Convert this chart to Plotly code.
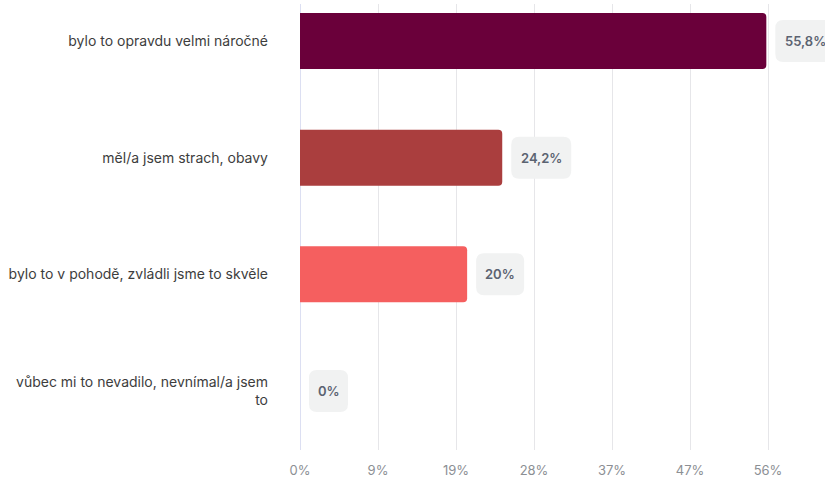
import plotly.graph_objects as go

# Survey answers, top to bottom
categories = [
    "bylo to opravdu velmi náročné",
    "měl/a jsem strach, obavy",
    "bylo to v pohodě, zvládli jsme to skvěle",
    "vůbec mi to nevadilo, nevnímal/a jsem<br>to",
]
values = [55.8, 24.2, 20.0, 0.0]
value_labels = ["55,8%", "24,2%", "20%", "0%"]
bar_colors = ["#6a003a", "#aa3e3e", "#f55f5f", "#f55f5f"]

tick_values = [0, 9.333, 18.667, 28, 37.333, 46.667, 56]
tick_labels = ["0%", "9%", "19%", "28%", "37%", "47%", "56%"]

FONT = "Inter"
positions = list(range(len(categories)))

fig = go.Figure(
    go.Bar(
        x=values,
        y=positions,
        orientation="h",
        marker=dict(color=bar_colors, cornerradius=4, line=dict(width=0)),
        width=0.48,
        hoverinfo="skip",
    )
)


def text_width(s):
    # rough pixel width of a semibold 13px label
    w = 0
    for ch in s:
        if ch.isdigit():
            w += 9
        elif ch == "%":
            w += 11
        else:
            w += 3
    return w


box_h = 42
radius = 8
pad = 9.5
gap = 9
for v, p, lab in zip(values, positions, value_labels):
    w = text_width(lab) + 2 * pad
    a, b = gap, gap + w
    hh = box_h / 2
    path = (
        f"M {a + radius},{-hh} L {b - radius},{-hh} Q {b},{-hh} {b},{-hh + radius} "
        f"L {b},{hh - radius} Q {b},{hh} {b - radius},{hh} "
        f"L {a + radius},{hh} Q {a},{hh} {a},{hh - radius} "
        f"L {a},{-hh + radius} Q {a},{-hh} {a + radius},{-hh} Z"
    )
    fig.add_shape(
        type="path",
        xref="x",
        yref="y",
        xsizemode="pixel",
        ysizemode="pixel",
        xanchor=v,
        yanchor=p,
        path=path,
        fillcolor="#f1f2f2",
        line=dict(width=0),
        layer="above",
    )
    fig.add_annotation(
        x=v,
        y=p,
        xref="x",
        yref="y",
        text=lab,
        showarrow=False,
        xanchor="center",
        yanchor="middle",
        xshift=gap + w / 2,
        font=dict(family=FONT, size=13, color="#5b6371", weight=600),
    )

# the value axis runs past the last tick so the top label box has room
x_max = 56 * 525 / 468

fig.update_layout(
    width=825,
    height=479,
    margin=dict(l=300, r=0, t=4, b=29),
    paper_bgcolor="white",
    plot_bgcolor="white",
    showlegend=False,
    font=dict(family=FONT),
)

fig.update_xaxes(
    range=[0, x_max],
    tickvals=tick_values,
    ticktext=tick_labels,
    showgrid=True,
    gridcolor="#e6e6e9",
    gridwidth=1,
    zeroline=True,
    zerolinecolor="#dcdff2",
    zerolinewidth=1,
    showline=False,
    ticks="",
    ticklabelstandoff=11,
    tickfont=dict(family=FONT, size=13, color="#8c8f94"),
    fixedrange=True,
)

fig.update_yaxes(
    range=[3.506, -0.317],
    tickvals=positions,
    ticktext=categories,
    showgrid=False,
    zeroline=False,
    showline=False,
    ticks="",
    ticklabelstandoff=31,
    tickfont=dict(family=FONT, size=14, color="#3d3d3d"),
    fixedrange=True,
)

fig.write_html("out.html")
